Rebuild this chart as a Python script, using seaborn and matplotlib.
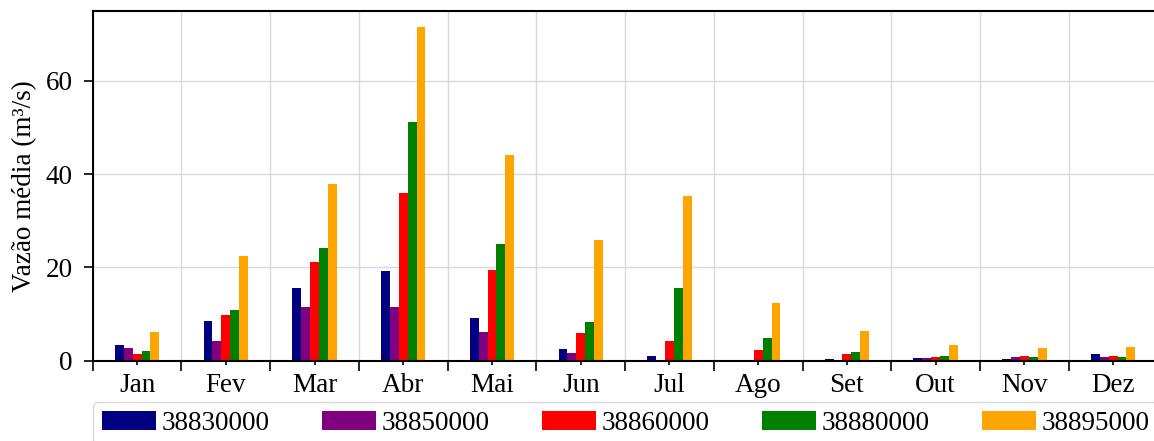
import matplotlib
matplotlib.use("Agg")
import matplotlib.pyplot as plt
import numpy as np
import pandas as pd
import seaborn as sns

meses = ["Jan", "Fev", "Mar", "Abr", "Mai", "Jun", "Jul", "Ago", "Set", "Out", "Nov", "Dez"]
estacoes = ["38830000", "38850000", "38860000", "38880000", "38895000"]
cores = ["navy", "purple", "red", "green", "orange"]

v_38830000 = [3.4, 8.6, 15.6, 19.2, 9.1, 2.5, 1.0, 0.1, 0.3, 0.5, 0.4, 1.5]
v_38850000 = [2.7, 4.3, 11.6, 11.5, 6.1, 1.6, 0.2, 0.05, 0.05, 0.5, 0.8, 0.8]
v_38860000 = [1.4, 9.8, 21.2, 35.9, 19.5, 6.0, 4.3, 2.3, 1.4, 0.8, 1.1, 1.1]
v_38880000 = [2.1, 10.8, 24.2, 51.2, 25.1, 8.2, 15.6, 4.9, 1.9, 1.0, 0.8, 0.9]
v_38895000 = [6.1, 22.5, 37.9, 71.5, 44.2, 25.8, 35.4, 12.4, 6.4, 3.4, 2.8, 2.9]

df = pd.DataFrame({
    "mes": meses * 5,
    "estacao": np.repeat(estacoes, len(meses)),
    "vazao": v_38830000 + v_38850000 + v_38860000 + v_38880000 + v_38895000,
})

plt.rcParams["font.family"] = ["Liberation Serif", "DejaVu Serif"]
plt.rcParams["font.size"] = 19.5

fig = plt.figure(figsize=(11.54, 4.41), dpi=100)
ax = fig.add_axes([92.7 / 1154, (441 - 360.7) / 441, 1064.8 / 1154, 349.7 / 441])

sns.barplot(data=df, x="mes", y="vazao", hue="estacao", order=meses, hue_order=estacoes,
            palette=cores, width=0.5, gap=0, errorbar=None, saturation=1,
            linewidth=0, ax=ax)

ax.set_xlim(-0.5, 11.5)
ax.set_ylim(0, 75)
ax.set_yticks([0, 20, 40, 60])
ax.set_xlabel("")
ax.set_ylabel("Vazão média (m³/s)", labelpad=6)

# ticks longos nas divisas entre meses, com grade
ax.set_xticks(np.arange(-0.5, 12, 1), minor=True)
ax.tick_params(axis="x", which="major", length=3, width=1.2, pad=6)
ax.tick_params(axis="x", which="minor", length=7, width=1.2)
ax.tick_params(axis="y", which="major", length=6.5, width=1.2, pad=8)
ax.grid(False)
ax.xaxis.grid(True, which="minor", color="#d9d9d9", linewidth=1)
ax.yaxis.grid(True, which="major", color="#d9d9d9", linewidth=1)
ax.set_axisbelow(True)
for s in ax.spines.values():
    s.set_linewidth(1.5)

handles, labels = ax.get_legend_handles_labels()
ax.get_legend().remove()
fig.legend(handles, labels, ncol=5, loc="upper left",
           bbox_to_anchor=(92.7 / 1154, (441 - 401.7) / 441),
           borderaxespad=0, borderpad=0.33, handletextpad=0.2, columnspacing=1.94)

fig.savefig("out.png", dpi=100)
